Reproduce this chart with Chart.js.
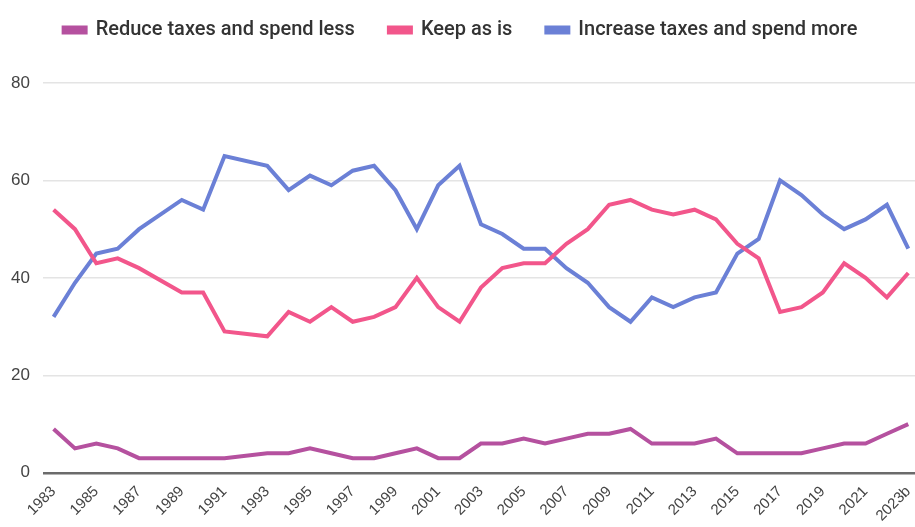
<!DOCTYPE html>
<html>
<head>
<meta charset="utf-8">
<script src="https://cdn.jsdelivr.net/npm/chart.js@4"></script>
<style>
  html, body { margin: 0; padding: 0; background: #fff; overflow: hidden; }
  #wrap { width: 923px; height: 527px; }
</style>
</head>
<body>
<div id="wrap"><canvas id="chart"></canvas></div>
<script>
// survey years (no survey in 1988 and 1992)
let years = ["1983","1984","1985","1986","1987","1988","1989","1990","1991","1992",
  "1993","1994","1995","1996","1997","1998","1999","2000","2001","2002",
  "2003","2004","2005","2006","2007","2008","2009","2010","2011","2012",
  "2013","2014","2015","2016","2017","2018","2019","2020","2021","2022","2023b"];

let reduceTaxes = [9,5,6,5,3,null,3,3,3,null,
  4,4,5,4,3,3,4,5,3,3,
  6,6,7,6,7,8,8,9,6,6,
  6,7,4,4,4,4,5,6,6,8,10];

let keepAsIs = [54,50,43,44,42,null,37,37,29,null,
  28,33,31,34,31,32,34,40,34,31,
  38,42,43,43,47,50,55,56,54,53,
  54,52,47,44,33,34,37,43,40,36,41];

let increaseTaxes = [32,39,45,46,50,null,56,54,65,null,
  63,58,61,59,62,63,58,50,59,63,
  51,49,46,46,42,39,34,31,36,34,
  36,37,45,48,60,57,53,50,52,55,46];

let yTicks = [0, 20, 40, 60, 80];

function series(label, data, color) {
  return {
    label: label,
    data: data,
    borderColor: color,
    backgroundColor: color,
    borderWidth: 4,
    pointRadius: 0,
    tension: 0,
    spanGaps: true,
  };
}

// give the legend some extra room below it
const legendSpace = {
  id: "legendSpace",
  beforeInit(chart) {
    const fit = chart.legend.fit;
    chart.legend.fit = function () {
      fit.call(this);
      this.height += 33;
    };
  },
};

const config = {
  type: "line",
  data: {
    labels: years,
    datasets: [
      series("Reduce taxes and spend less", reduceTaxes, "#b5519f"),
      series("Keep as is", keepAsIs, "#f2568b"),
      series("Increase taxes and spend more", increaseTaxes, "#6b80d6"),
    ],
  },
  plugins: [legendSpace],
  options: {
    responsive: true,
    maintainAspectRatio: false,
    animation: false,
    layout: { padding: { top: -14, right: 0, left: -2, bottom: 0 } },
    plugins: {
      legend: {
        display: true,
        position: "top",
        labels: {
          boxWidth: 22,
          boxHeight: 5,
          padding: 34,
          color: "#333",
          font: { family: "Roboto, sans-serif", size: 20, weight: 500 },
        },
      },
      tooltip: { enabled: false },
    },
    scales: {
      x: {
        offset: true,
        grid: { display: false },
        border: { display: false },
        ticks: {
          autoSkip: false,
          minRotation: 45,
          maxRotation: 45,
          color: "#444",
          padding: 2,
          font: { family: "'Liberation Sans', Arial, sans-serif", size: 15 },
          callback: function (val, index) {
            return index % 2 === 0 ? years[index] : "";
          },
        },
      },
      y: {
        min: 0,
        max: 80,
        afterBuildTicks: function (axis) {
          axis.ticks = yTicks.map((v) => ({ value: v }));
        },
        border: { display: false },
        grid: {
          drawTicks: false,
          color: (ctx) => (ctx.tick.value === 0 ? "#6b6b6b" : "#e4e4e4"),
          lineWidth: (ctx) => (ctx.tick.value === 0 ? 2.5 : 1.5),
        },
        ticks: {
          color: "#444",
          padding: 13,
          font: { family: "'Liberation Sans', Arial, sans-serif", size: 17 },
        },
      },
    },
  },
};

let chart = new Chart(document.getElementById("chart"), config);
</script>
</body>
</html>
